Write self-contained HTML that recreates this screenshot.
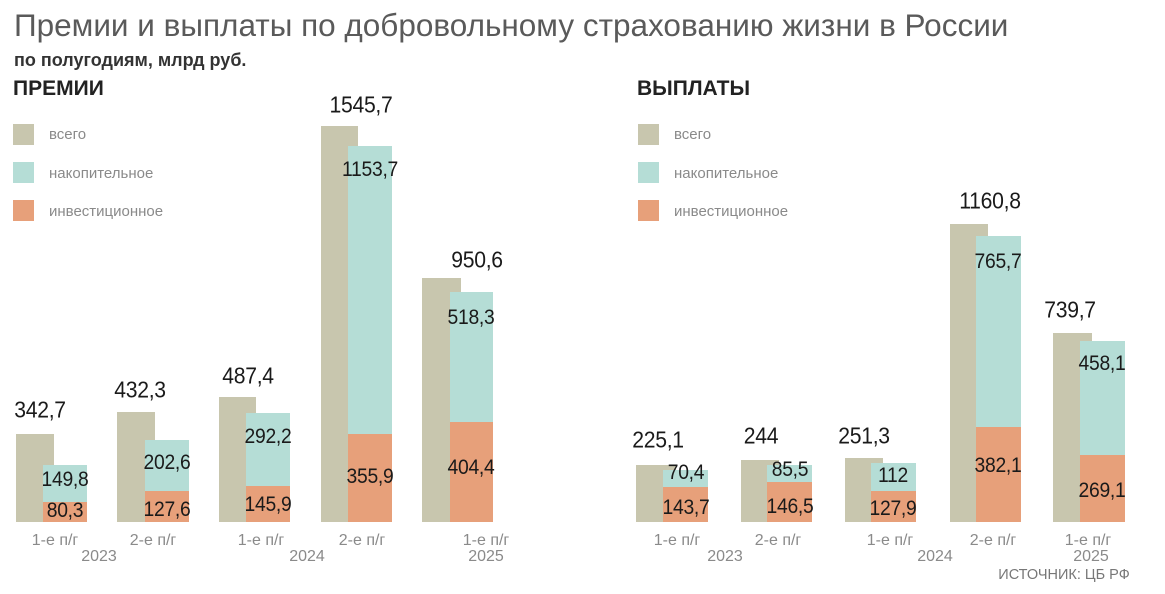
<!DOCTYPE html>
<html><head><meta charset="utf-8"><style>
body{margin:0;width:1165px;height:594px;background:#fff;position:relative;overflow:hidden;font-family:"Liberation Sans","DejaVu Sans",sans-serif}
div,span{position:absolute}
.g{background:#c8c6ae}.t{background:#b5ddd6}.o{background:#e7a07a}
.c{transform:translate(-50%,-50%);white-space:nowrap}
.v{font-size:23px;color:#1a1a1a;letter-spacing:-0.3px;transform:translate(-50%,-50%) scaleX(0.92)}
.i{font-size:21px;color:#1a1a1a;letter-spacing:-0.3px;transform:translate(-50%,-50%) scaleX(0.92)}
.x{font-size:16px;color:#8a8a8a}
.lg{font-size:15px;color:#8a8a8a}
</style></head><body>
<span style="left:14px;top:7px;font-size:31.5px;color:#5a5a5a;white-space:nowrap">Премии и выплаты по добровольному страхованию жизни в России</span>
<span style="left:14px;top:50px;font-size:18px;font-weight:bold;color:#333;white-space:nowrap">по полугодиям, млрд руб.</span>
<span style="left:13px;top:77px;font-size:21px;font-weight:bold;color:#222">ПРЕМИИ</span>
<span style="left:637px;top:77px;font-size:21px;font-weight:bold;color:#222">ВЫПЛАТЫ</span>

<div class="g" style="left:13px;top:124px;width:21px;height:21px"></div>
<div class="t" style="left:13px;top:162px;width:21px;height:21px"></div>
<div class="o" style="left:13px;top:200px;width:21px;height:21px"></div>
<span class="lg" style="left:49px;top:126px">всего</span>
<span class="lg" style="left:49px;top:165px">накопительное</span>
<span class="lg" style="left:49px;top:203px">инвестиционное</span>
<div class="g" style="left:638px;top:124px;width:21px;height:21px"></div>
<div class="t" style="left:638px;top:162px;width:21px;height:21px"></div>
<div class="o" style="left:638px;top:200px;width:21px;height:21px"></div>
<span class="lg" style="left:674px;top:126px">всего</span>
<span class="lg" style="left:674px;top:165px">накопительное</span>
<span class="lg" style="left:674px;top:203px">инвестиционное</span>

<div class="g" style="left:16px;top:434px;width:38px;height:88px"></div>
<div class="t" style="left:43px;top:465px;width:44px;height:37px"></div>
<div class="o" style="left:43px;top:502px;width:44px;height:20px"></div>
<div class="g" style="left:117px;top:412px;width:38px;height:110px"></div>
<div class="t" style="left:145px;top:440px;width:44px;height:51px"></div>
<div class="o" style="left:145px;top:491px;width:44px;height:31px"></div>
<div class="g" style="left:219px;top:397px;width:37px;height:125px"></div>
<div class="t" style="left:246px;top:413px;width:44px;height:73px"></div>
<div class="o" style="left:246px;top:486px;width:44px;height:36px"></div>
<div class="g" style="left:321px;top:126px;width:37px;height:396px"></div>
<div class="t" style="left:348px;top:146px;width:44px;height:288px"></div>
<div class="o" style="left:348px;top:434px;width:44px;height:88px"></div>
<div class="g" style="left:422px;top:278px;width:39px;height:244px"></div>
<div class="t" style="left:450px;top:292px;width:43px;height:130px"></div>
<div class="o" style="left:450px;top:422px;width:43px;height:100px"></div>

<span class="v" style="left:40px;top:410px">342,7</span>
<span class="v" style="left:140px;top:390px">432,3</span>
<span class="v" style="left:248px;top:376px">487,4</span>
<span class="v" style="left:361px;top:105px">1545,7</span>
<span class="v" style="left:477px;top:260px">950,6</span>
<span class="i" style="left:65px;top:480px">149,8</span>
<span class="i" style="left:65px;top:511px">80,3</span>
<span class="i" style="left:167px;top:463px">202,6</span>
<span class="i" style="left:167px;top:510px">127,6</span>
<span class="i" style="left:268px;top:437px">292,2</span>
<span class="i" style="left:268px;top:505px">145,9</span>
<span class="i" style="left:370px;top:170px">1153,7</span>
<span class="i" style="left:370px;top:477px">355,9</span>
<span class="i" style="left:471px;top:318px">518,3</span>
<span class="i" style="left:471px;top:468px">404,4</span>

<span class="x c" style="left:55px;top:541px">1-е п/г</span>
<span class="x c" style="left:153px;top:541px">2-е п/г</span>
<span class="x c" style="left:261px;top:541px">1-е п/г</span>
<span class="x c" style="left:362px;top:541px">2-е п/г</span>
<span class="x c" style="left:486px;top:541px">1-е п/г</span>
<span class="x c" style="left:99px;top:557px">2023</span>
<span class="x c" style="left:307px;top:557px">2024</span>
<span class="x c" style="left:486px;top:557px">2025</span>

<div class="g" style="left:636px;top:465px;width:40px;height:57px"></div>
<div class="t" style="left:663px;top:470px;width:45px;height:17px"></div>
<div class="o" style="left:663px;top:487px;width:45px;height:35px"></div>
<div class="g" style="left:741px;top:460px;width:38px;height:62px"></div>
<div class="t" style="left:767px;top:465px;width:45px;height:17px"></div>
<div class="o" style="left:767px;top:482px;width:45px;height:40px"></div>
<div class="g" style="left:845px;top:458px;width:38px;height:64px"></div>
<div class="t" style="left:871px;top:463px;width:45px;height:28px"></div>
<div class="o" style="left:871px;top:491px;width:45px;height:31px"></div>
<div class="g" style="left:950px;top:224px;width:38px;height:298px"></div>
<div class="t" style="left:976px;top:236px;width:45px;height:191px"></div>
<div class="o" style="left:976px;top:427px;width:45px;height:95px"></div>
<div class="g" style="left:1053px;top:333px;width:39px;height:189px"></div>
<div class="t" style="left:1080px;top:341px;width:45px;height:114px"></div>
<div class="o" style="left:1080px;top:455px;width:45px;height:67px"></div>

<span class="v" style="left:658px;top:440px">225,1</span>
<span class="v" style="left:761px;top:436px">244</span>
<span class="v" style="left:864px;top:436px">251,3</span>
<span class="v" style="left:990px;top:201px">1160,8</span>
<span class="v" style="left:1070px;top:310px">739,7</span>
<span class="i" style="left:686px;top:473px">70,4</span>
<span class="i" style="left:686px;top:508px">143,7</span>
<span class="i" style="left:790px;top:470px">85,5</span>
<span class="i" style="left:790px;top:507px">146,5</span>
<span class="i" style="left:893px;top:476px">112</span>
<span class="i" style="left:893px;top:509px">127,9</span>
<span class="i" style="left:998px;top:262px">765,7</span>
<span class="i" style="left:998px;top:466px">382,1</span>
<span class="i" style="left:1102px;top:364px">458,1</span>
<span class="i" style="left:1102px;top:491px">269,1</span>

<span class="x c" style="left:677px;top:541px">1-е п/г</span>
<span class="x c" style="left:778px;top:541px">2-е п/г</span>
<span class="x c" style="left:890px;top:541px">1-е п/г</span>
<span class="x c" style="left:993px;top:541px">2-е п/г</span>
<span class="x c" style="left:1088px;top:541px">1-е п/г</span>
<span class="x c" style="left:725px;top:557px">2023</span>
<span class="x c" style="left:935px;top:557px">2024</span>
<span class="x c" style="left:1091px;top:557px">2025</span>
<span class="x c" style="left:1064px;top:575px;font-size:14.5px;color:#777">ИСТОЧНИК: ЦБ РФ</span>
</body></html>
